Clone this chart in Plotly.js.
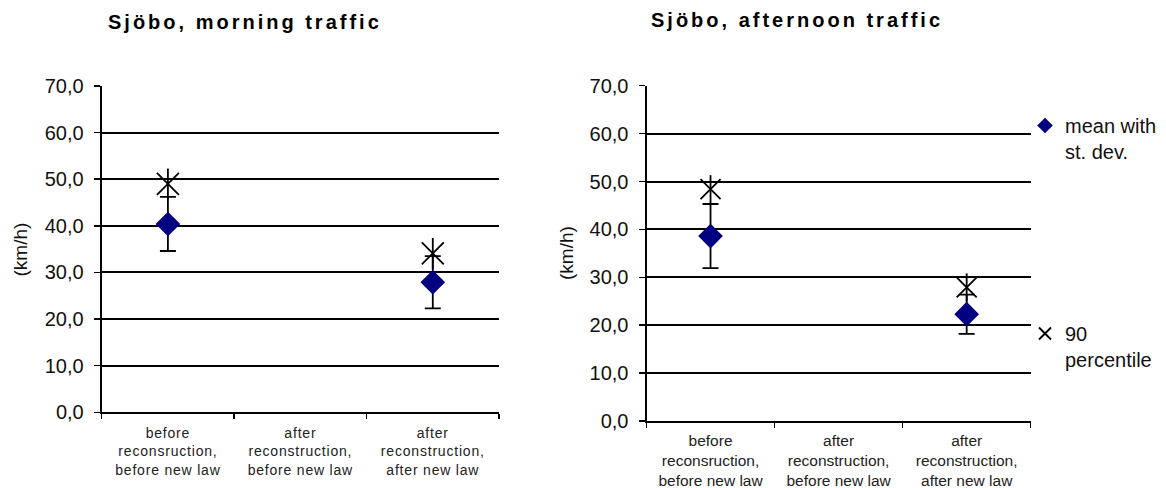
<!DOCTYPE html>
<html>
<head>
<meta charset="utf-8">
<script src="https://cdn.plot.ly/plotly-3.0.1.min.js"></script>
<style>
  html, body { margin: 0; padding: 0; background: #fff; }
  #chart { width: 1166px; height: 488px; }
  .xtick text { letter-spacing: 0.8px; }
</style>
</head>
<body>
<div id="chart"></div>
<script>
// ---- data ----
const categories = [
  "before<br>reconsruction,<br>before new law",
  "after<br>reconstruction,<br>before new law",
  "after<br>reconstruction,<br>after new law"
];
const yTickVals = [0, 10, 20, 30, 40, 50, 60, 70];

const morningMean = [40.4, null, 27.9];
const morningSD   = [5.8, null, 5.6];
const morningP90  = [49.0, null, 34.1];

const afternoonMean = [38.6, null, 22.3];
const afternoonSD   = [6.7, null, 4.1];
const afternoonP90  = [48.4, null, 27.9];

const titles = ["Sjöbo, morning traffic", "Sjöbo, afternoon traffic"];
const yTitle = "(km/h)";
const legendNames = ["mean with<br>st. dev.", "90<br>percentile"];

// ---- styling ----
const FONT = '"Liberation Sans", Arial, sans-serif';
const NAVY = '#000080';

function meanTrace(xa, ya, y, sd, showleg) {
  return {
    type: 'scatter', mode: 'markers', xaxis: xa, yaxis: ya,
    x: categories, y: y, name: legendNames[0], showlegend: showleg, legend: 'legend',
    marker: { symbol: 'diamond', size: 19, color: NAVY },
    error_y: { type: 'data', array: sd, visible: true, color: '#000', thickness: 1.8, width: 8 },
    cliponaxis: false
  };
}
function p90Traces(xa, ya, y, showleg, size) {
  return [
    { type: 'scatter', mode: 'markers', xaxis: xa, yaxis: ya, x: categories, y: y,
      name: legendNames[1], showlegend: showleg, legend: 'legend2',
      marker: { symbol: 'x-thin-open', size: size, color: '#000', line: { color: '#000', width: 1.8 } },
      cliponaxis: false },
    { type: 'scatter', mode: 'markers', xaxis: xa, yaxis: ya, x: categories, y: y,
      showlegend: false,
      marker: { symbol: 'line-ns-open', size: size, color: '#000', line: { color: '#000', width: 1.8 } },
      cliponaxis: false }
  ];
}

const data = [
  meanTrace('x', 'y', morningMean, morningSD, false),
  ...p90Traces('x', 'y', morningP90, false, 22),
  meanTrace('x2', 'y2', afternoonMean, afternoonSD, true),
  ...p90Traces('x2', 'y2', afternoonP90, true, 20)
];

const W = 1166, H = 488;
function px(x) { return x / W; }
function py(y) { return 1 - y / H; }

function xAxis(domain, anchor, fsize, standoff) {
  return {
    domain: domain, anchor: anchor, type: 'category',
    categoryorder: 'array', categoryarray: categories,
    range: [-0.5, 2.5], tickson: 'boundaries',
    ticks: 'outside', ticklen: 5, tickwidth: 1.5, tickcolor: '#000',
    showline: true, linecolor: '#000', linewidth: 2,
    showgrid: false, zeroline: false,
    tickfont: { family: FONT, size: fsize, color: '#222' },
    ticklabelstandoff: standoff,
    fixedrange: true
  };
}
function yAxis(domain, anchor) {
  return {
    domain: domain, anchor: anchor, range: [0, 70],
    tickvals: yTickVals, tickformat: '.1f',
    ticks: 'outside', ticklen: 6, tickwidth: 1.5, tickcolor: '#000',
    showline: true, linecolor: '#000', linewidth: 2,
    showgrid: true, gridcolor: '#000', gridwidth: 2,
    zeroline: false,
    tickfont: { family: FONT, size: 20, color: '#111' },
    ticklabelstandoff: 6,
    fixedrange: true
  };
}

const layout = {
  width: W, height: H,
  margin: { l: 0, r: 0, t: 0, b: 0 },
  paper_bgcolor: '#fff', plot_bgcolor: 'rgba(0,0,0,0)',
  separators: ', ',
  font: { family: FONT, color: '#000' },
  xaxis:  xAxis([px(101.7), px(499)], 'y', 14, 7),
  yaxis:  yAxis([py(412.3), py(86)], 'x'),
  xaxis2: xAxis([px(646.5), px(1030.7)], 'y2', 15.5, 4),
  yaxis2: yAxis([py(421), py(85.7)], 'x2'),
  legend: {
    x: px(1025), y: py(106), xanchor: 'left', yanchor: 'top',
    bgcolor: 'rgba(0,0,0,0)', valign: 'top', itemsizing: 'constant',
    font: { family: FONT, size: 20, color: '#111' }
  },
  legend2: {
    x: px(1025), y: py(314), xanchor: 'left', yanchor: 'top',
    bgcolor: 'rgba(0,0,0,0)', valign: 'top', itemsizing: 'constant',
    font: { family: FONT, size: 20, color: '#111' }
  },
  annotations: [
    { text: titles[0], x: px(245), y: py(22), xref: 'paper', yref: 'paper',
      xanchor: 'center', yanchor: 'middle', showarrow: false,
      font: { family: FONT, size: 20, color: '#000', weight: 'bold' } },
    { text: titles[1], x: px(797), y: py(20), xref: 'paper', yref: 'paper',
      xanchor: 'center', yanchor: 'middle', showarrow: false,
      font: { family: FONT, size: 20, color: '#000', weight: 'bold' } },
    { text: yTitle, x: px(20.5), y: py(250), xref: 'paper', yref: 'paper',
      xanchor: 'center', yanchor: 'middle', showarrow: false, textangle: -90,
      font: { family: FONT, size: 19, color: '#111' } },
    { text: yTitle, x: px(566), y: py(253), xref: 'paper', yref: 'paper',
      xanchor: 'center', yanchor: 'middle', showarrow: false, textangle: -90,
      font: { family: FONT, size: 19, color: '#111' } }
  ]
};

Plotly.newPlot('chart', data, layout, { displayModeBar: false, staticPlot: true }).then(function () {
  document.querySelectorAll('.annotation-text').forEach(function (t, i) {
    if (i < 2) t.style.letterSpacing = '3px';
  });
});
</script>
</body>
</html>
